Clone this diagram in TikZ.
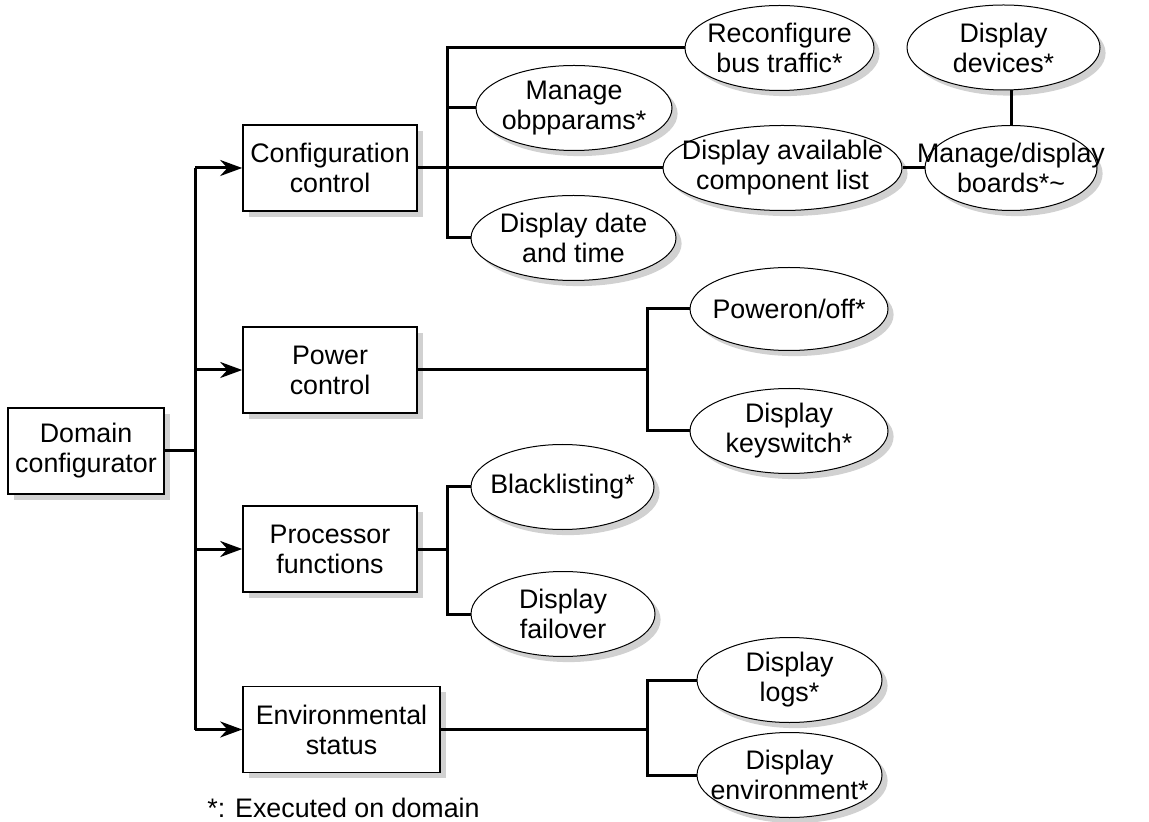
\documentclass[tikz,border=0pt]{standalone}
\usepackage{fontspec}
\setmainfont{Liberation Sans}
\usetikzlibrary{arrows.meta,shadows,shapes.geometric}

\tikzset{
  castshadow/.style = { drop shadow={shadow xshift=2.8pt,shadow yshift=-2.8pt,fill=black!18,opacity=1} },
  box/.style = { draw , line width=0.8pt , fill=white , align=center , inner sep=0pt , minimum width=87pt , minimum height=43pt , castshadow },
  task/.style = { ellipse , draw , line width=0.5pt , fill=white , inner sep=0pt , minimum width=92pt , minimum height=42.5pt , castshadow ,
    label={[align=center]center:#1} },
  link/.style = { line width=1.5pt },
  feed/.style = { link , -{Stealth[length=11pt,width=8pt]} }
}

\begin{document}
\begin{tikzpicture}[ x=0.5pt , y=-0.5pt , font=\fontsize{13.4}{15}\selectfont ]
\useasboundingbox (0,0) rectangle (1149,822);

% boxes
\node [ box , minimum width=78pt ] (domain) at (86,451) {Domain\\configurator};
\node [ box ] (cfg) at (330,168) {Configuration\\control};
\node [ box ] (pwr) at (330,370) {Power\\control};
\node [ box ] (proc) at (330,549) {Processor\\functions};
\node [ box , minimum width=98.5pt ] (env) at (341.5,729.5) {Environmental\\status};

% tasks
\node [ task={Reconfigure\\bus traffic*} , minimum width=94.5pt ] (bus) at (779.5,48) {};
\node [ task={Manage\\obpparams*} , minimum width=98pt ] (obp) at (574,108) {};
\node [ task={Display date\\and time} , minimum width=102.5pt ] (date) at (573.5,238) {};
\node [ task={Display available\\component list} , minimum width=119.5pt ] (avail) at (782.5,168) {};
\node [ task={Manage/display\\boards*\textasciitilde} , minimum width=86pt ] (boards) at (1011,168) {};
\node [ task={Display\\devices*} , minimum width=96.5pt ] (devices) at (1003.5,47.5) {};
\node [ task={Poweron/off*} , minimum width=99pt , minimum height=41.5pt ] (poweron) at (789,309) {};
\node [ task={Display\\keyswitch*} , minimum width=99pt ] (keysw) at (789,431) {};
\node [ task={Blacklisting*} , minimum width=91.5pt ] (black) at (562.5,487) {};
\node [ task={Display\\failover} ] (failover) at (563,614) {};
\node [ task={Display\\logs*} , minimum width=92.5pt ] (logs) at (789.5,680) {};
\node [ task={Display\\environment*} , minimum width=92.5pt ] (envdisp) at (789.5,775) {};

% forks
\coordinate (split) at (195,451);
\coordinate (cfgfork) at (447,168);
\coordinate (pwrfork) at (647,370);
\coordinate (procfork) at (447,549);
\coordinate (envfork) at (647,729.5);

% domain configurator
\draw [ link ] (domain) -- (split);
\draw [ link ] (split |- cfg.west) -- (split |- env.west);
\foreach \n in {cfg,pwr,proc,env}
  \draw [ feed ] (split |- \n.west) -- (\n.west);

% configuration control
\draw [ link ] (cfg) -- (avail);
\draw [ link ] (avail) -- (boards);
\draw [ link ] (boards.north) -- (boards.north |- devices.south);
\draw [ link ] (bus.west) -| (cfgfork) |- (date.west);
\draw [ link ] (cfgfork |- obp.west) -- (obp.west);

% power, processor, environment
\draw [ link ] (pwr) -- (pwrfork);
\draw [ link ] (poweron.west) -| (pwrfork) |- (keysw.west);
\draw [ link ] (proc) -- (procfork);
\draw [ link ] (black.west) -| (procfork) |- (failover.west);
\draw [ link ] (env) -- (envfork);
\draw [ link ] (logs.west) -| (envfork) |- (envdisp.west);

\node [ anchor=base west , inner sep=0pt ] (note) at (207,817) {*: Executed on domain};
\end{tikzpicture}
\end{document}
